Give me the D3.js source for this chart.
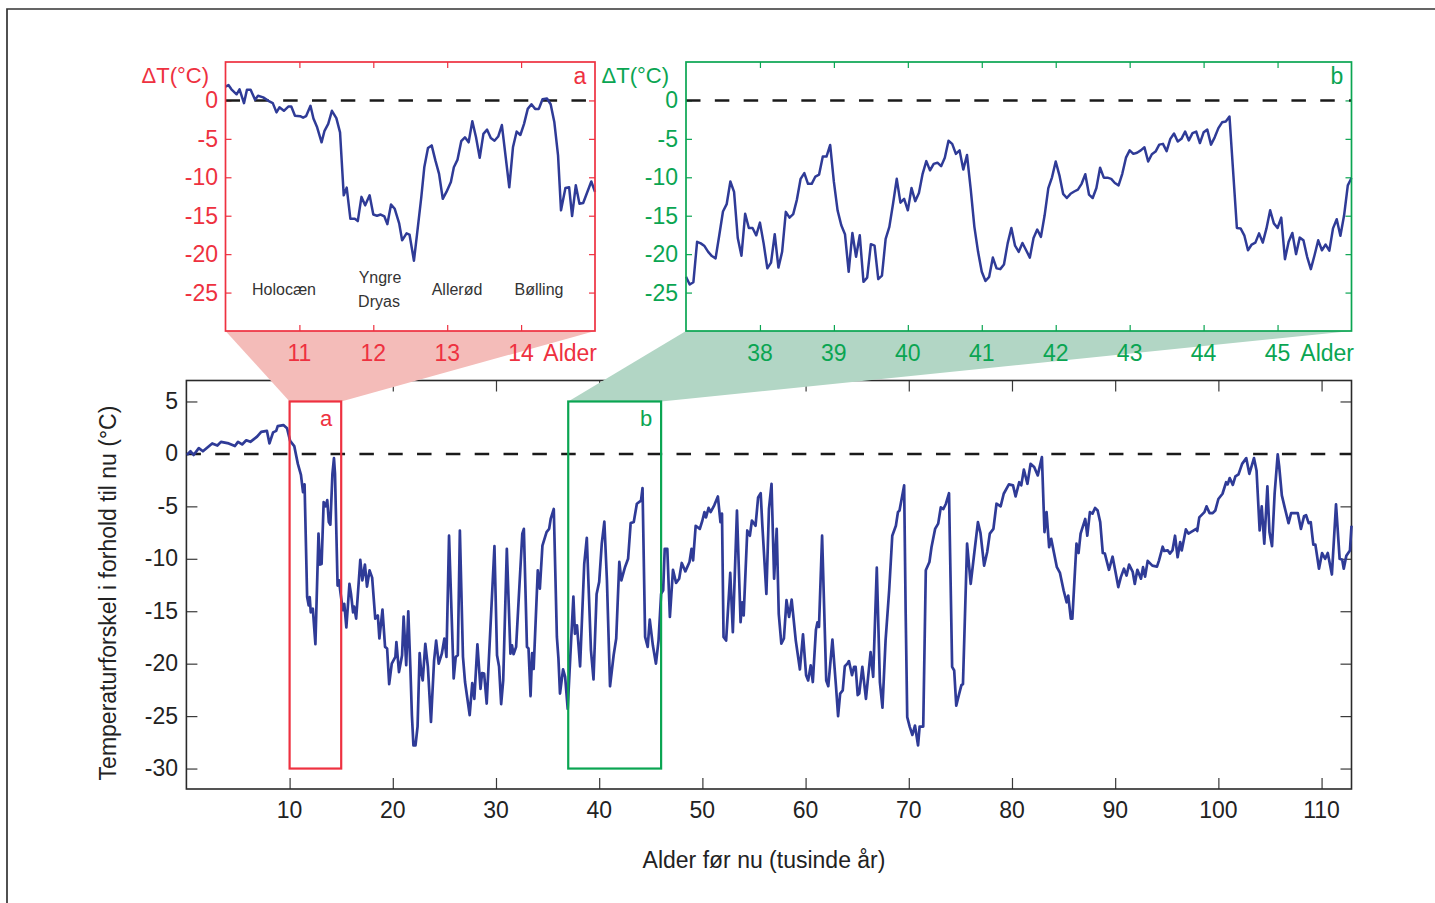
<!DOCTYPE html>
<html><head><meta charset="utf-8">
<script src="https://cdn.jsdelivr.net/npm/d3@7"></script>
<style>
html,body{margin:0;padding:0;background:#fff;overflow:hidden}
text{font-family:"Liberation Sans",Arial,sans-serif}
</style></head><body><svg id="c" width="1435" height="903"></svg>
<script>
// Age (thousand years before present), temperature difference (°C)
const mainSeries=[[0.05,-0.1],[0.4,0.25],[0.7,-0.1],[1.2,0.55],[1.6,0.25],[2.5,1.0],[3.0,0.8],[3.35,1.15],[4.1,1.0],[4.7,0.75],[5.0,1.15],[5.4,0.9],[5.8,1.3],[6.2,1.15],[6.85,1.65],[7.25,2.1],[7.8,2.2],[8.05,1.0],[8.4,2.05],[8.7,2.2],[8.85,2.65],[9.4,2.75],[9.75,2.45],[10.05,1.25],[10.45,0.75],[10.8,-0.95],[11.1,-2.0],[11.3,-3.65],[11.45,-2.9],[11.7,-13.65],[11.85,-14.45],[11.95,-13.65],[12.05,-15.1],[12.25,-14.75],[12.5,-18.15],[12.8,-7.6],[12.95,-10.55],[13.1,-10.5],[13.3,-4.6],[13.5,-5.0],[13.65,-4.4],[13.8,-6.5],[13.95,-6.75],[14.15,-1.9],[14.3,-0.4],[14.4,-1.9],[14.65,-12.55],[14.8,-12.05],[14.9,-13],[15.15,-14.9],[15.3,-14.3],[15.5,-16.55],[15.8,-12.4],[15.95,-13.35],[16.15,-15.1],[16.25,-14.55],[16.45,-15.7],[16.85,-10.1],[17.05,-12.05],[17.3,-10.55],[17.5,-12.65],[17.75,-11.1],[18,-11.8],[18.3,-15.7],[18.55,-15.4],[18.7,-17.6],[19,-14.85],[19.25,-18.4],[19.45,-18.55],[19.65,-21.95],[19.9,-20],[20.25,-19.35],[20.35,-17.95],[20.6,-20.8],[20.9,-19.2],[21.05,-15.5],[21.3,-20.15],[21.5,-15],[21.7,-20.3],[21.85,-24.9],[22,-27.8],[22.2,-27.8],[22.4,-26],[22.6,-19],[22.75,-20.8],[22.9,-21.6],[23.15,-18.1],[23.4,-20.3],[23.7,-25.55],[24,-19.7],[24.2,-17.8],[24.45,-20],[24.75,-19.05],[25,-17.6],[25.2,-19.35],[25.45,-7.8],[25.9,-21.4],[26.1,-19.35],[26.3,-19.2],[26.5,-7.3],[26.8,-19.35],[27,-21.75],[27.45,-24.9],[27.7,-21.85],[27.9,-23.35],[28.2,-18.15],[28.5,-22.4],[28.65,-20.9],[28.85,-20.95],[29.1,-23.8],[29.45,-16.8],[29.85,-8.8],[30.1,-19.2],[30.3,-20.3],[30.5,-23.85],[30.7,-21.6],[31.05,-9.05],[31.4,-19.05],[31.55,-18.25],[31.7,-19.1],[31.95,-18.4],[32.3,-12.05],[32.55,-7.6],[32.7,-7.15],[33,-18.4],[33.15,-18.55],[33.35,-23.1],[33.5,-19],[33.65,-20.5],[34.05,-11.1],[34.25,-12.85],[34.5,-8.75],[34.9,-7.45],[35.15,-7.15],[35.3,-6.2],[35.6,-5.25],[35.9,-17.45],[36.05,-19.5],[36.2,-22.85],[36.5,-20.55],[36.7,-21.25],[36.95,-24.3],[37.2,-19.35],[37.5,-13.6],[37.65,-17.15],[37.85,-16.35],[38.15,-20.25],[38.55,-10.5],[38.8,-8],[39.2,-18.7],[39.45,-21.5],[39.75,-13.35],[40,-12.2],[40.25,-8.55],[40.5,-6.45],[40.75,-12.05],[41.05,-22.15],[41.4,-19.2],[41.65,-17.6],[41.95,-10.3],[42.15,-12.05],[42.5,-10.8],[42.8,-10],[43.05,-6.6],[43.35,-6.5],[43.65,-4.75],[44.05,-4.45],[44.2,-3.25],[44.45,-17.45],[44.7,-18.4],[44.9,-15.8],[45.2,-18.25],[45.5,-20],[45.75,-17.8],[46,-13.35],[46.2,-13],[46.35,-9.05],[46.6,-9.05],[46.85,-15.55],[47.15,-11.05],[47.45,-12.3],[47.75,-11.9],[48,-10.4],[48.35,-11.2],[48.75,-10.3],[48.95,-9.05],[49.1,-10.15],[49.35,-6.85],[49.75,-7.15],[50,-6.35],[50.2,-5.55],[50.35,-6.05],[50.6,-5.15],[50.8,-5.55],[51.15,-4.9],[51.5,-4.05],[51.75,-6.5],[51.9,-5.7],[52.05,-17.45],[52.3,-17.8],[52.7,-11.35],[52.95,-17],[53.35,-5.4],[53.7,-16.05],[53.85,-14.15],[54,-15.4],[54.35,-7.3],[54.6,-7.8],[54.8,-6.35],[55.15,-6.85],[55.4,-4.15],[55.65,-3.75],[55.8,-6.65],[56.2,-13.35],[56.45,-5.25],[56.7,-2.85],[56.95,-11.9],[57.2,-7.15],[57.4,-15.25],[57.65,-18.1],[57.9,-17.6],[58.15,-13.95],[58.4,-15.55],[58.65,-13.9],[59.05,-17.8],[59.45,-20.55],[59.75,-17.2],[60.05,-21.1],[60.25,-21.6],[60.5,-20.15],[60.7,-21.75],[61,-16.8],[61.15,-16.05],[61.3,-16.5],[61.6,-7.8],[62,-21.6],[62.2,-22.15],[62.6,-17.7],[62.95,-22.2],[63.15,-25],[63.35,-22.85],[63.6,-22.55],[63.8,-20.25],[64.05,-20],[64.2,-19.75],[64.5,-21.1],[64.7,-20.3],[64.85,-20.3],[65.05,-23],[65.2,-22.85],[65.5,-20.3],[65.85,-23.35],[66.3,-18.9],[66.55,-21.25],[66.9,-10.85],[67.2,-21.75],[67.45,-24.2],[67.75,-17.8],[68.1,-13],[68.4,-7.8],[68.75,-6.85],[68.95,-5.55],[69.1,-5.4],[69.55,-3],[69.7,-15.25],[69.85,-25.1],[70.1,-26.05],[70.35,-26.8],[70.6,-25.9],[70.9,-27.8],[71.05,-26],[71.4,-26],[71.65,-11.1],[72,-10.3],[72.2,-8.9],[72.55,-7.15],[72.85,-6.65],[73.1,-5.1],[73.35,-5.25],[73.6,-4.75],[73.9,-3.75],[74.2,-20.3],[74.4,-20.65],[74.6,-24],[74.85,-23],[75.1,-22.05],[75.25,-21.95],[75.65,-8.55],[76,-12.4],[76.3,-9.85],[76.7,-6.5],[76.95,-7.55],[77.3,-10.65],[77.6,-9.35],[77.85,-7.6],[78.2,-7.15],[78.5,-4.75],[78.9,-5],[79.2,-3.8],[79.7,-2.9],[80.1,-3],[80.35,-4.05],[80.7,-2.7],[80.9,-3],[81.15,-1.5],[81.5,-2.85],[81.8,-0.95],[82.15,-1.25],[82.5,-2.05],[82.9,-0.3],[83.15,-7.45],[83.35,-5.55],[83.6,-8.9],[83.8,-8.1],[84.35,-10.8],[84.65,-11.35],[85,-13],[85.3,-14.15],[85.45,-13.5],[85.7,-15.7],[85.85,-15.7],[86.25,-8.55],[86.45,-9.45],[86.65,-7.6],[87.1,-6.2],[87.3,-7.8],[87.55,-5.55],[87.8,-5.7],[88.05,-5.15],[88.3,-5.4],[88.55,-6.5],[88.8,-9.45],[89,-9.5],[89.4,-11.05],[89.75,-9.8],[90.05,-11.35],[90.3,-12.7],[90.55,-11.75],[90.85,-10.95],[91.1,-11.6],[91.35,-10.55],[91.7,-11.25],[91.9,-12.4],[92.15,-11.05],[92.5,-11.9],[92.7,-10.8],[92.9,-11.7],[93.15,-10.2],[93.6,-10.65],[94.05,-10.75],[94.25,-10.15],[94.6,-8.85],[94.75,-9.25],[95.1,-9.2],[95.3,-9.5],[95.55,-9.2],[95.8,-7.8],[96.05,-9.85],[96.3,-8.4],[96.45,-9.2],[96.85,-7.2],[97.1,-7.6],[97.85,-7.15],[97.95,-7.35],[98.15,-6.05],[98.65,-5.55],[98.85,-5],[99.15,-5.65],[99.45,-5.65],[99.7,-5.4],[100,-4.3],[100.4,-3.8],[100.75,-2.7],[100.9,-2.9],[101.1,-2.3],[101.4,-2.95],[101.65,-2.15],[101.95,-1.95],[102.3,-0.95],[102.7,-0.4],[103,-1.9],[103.45,-0.4],[103.7,-1.6],[104,-7.3],[104.2,-5],[104.45,-8.55],[104.75,-3.1],[104.95,-7.45],[105.2,-8.8],[105.45,-3.8],[105.75,-0.05],[105.9,-1.25],[106.15,-3.95],[106.5,-5.4],[106.8,-6.6],[107.05,-5.65],[107.7,-5.65],[108,-7.15],[108.3,-5.95],[108.5,-5.85],[108.75,-6.6],[108.95,-6.5],[109.2,-8.65],[109.4,-8.65],[109.75,-10.95],[110.05,-9.45],[110.35,-10],[110.6,-9.45],[111,-11.5],[111.4,-4.8],[111.75,-10],[112,-10.1],[112.15,-10.95],[112.4,-9.7],[112.75,-9.2],[112.9,-6.85]];
const insetASeries=[[10,1.8],[10.04,2.0],[10.08,1.45],[10.15,0.8],[10.19,1.45],[10.25,-0.35],[10.29,1.4],[10.34,1.4],[10.4,0.1],[10.44,0.6],[10.51,0.4],[10.58,-0.05],[10.64,-0.35],[10.69,-1.55],[10.73,-0.9],[10.79,-1.35],[10.85,-0.8],[10.89,-0.8],[10.94,-2],[11.01,-2.05],[11.05,-2.25],[11.09,-2.05],[11.15,-0.7],[11.19,-2.35],[11.24,-3.5],[11.3,-5.45],[11.34,-3.95],[11.39,-3.05],[11.44,-1.35],[11.5,-2.3],[11.55,-4.15],[11.6,-12.35],[11.64,-11.35],[11.69,-15.4],[11.75,-15.4],[11.79,-15.7],[11.84,-12.55],[11.89,-13.65],[11.95,-12.35],[12,-14.85],[12.05,-15],[12.1,-14.85],[12.15,-15.1],[12.19,-16.1],[12.24,-13.55],[12.29,-14.1],[12.35,-16],[12.39,-18.2],[12.45,-17.3],[12.49,-17.45],[12.55,-20.85],[12.59,-17.55],[12.65,-12.55],[12.69,-8.7],[12.74,-6.2],[12.79,-5.85],[12.84,-7.8],[12.89,-9.55],[12.94,-12.8],[12.99,-11.9],[13.05,-10.6],[13.09,-8.7],[13.14,-7.7],[13.19,-5.3],[13.24,-4.8],[13.29,-5.45],[13.34,-2.7],[13.39,-4.8],[13.44,-7.45],[13.49,-4.35],[13.54,-3.8],[13.59,-4.9],[13.64,-5.25],[13.69,-4.7],[13.74,-3.2],[13.84,-11.3],[13.89,-6.1],[13.94,-4.05],[13.99,-4.5],[14.04,-3.05],[14.09,-1.1],[14.14,-0.5],[14.19,-1.1],[14.24,-1.1],[14.29,0.15],[14.35,0.25],[14.4,-0.5],[14.45,-2.85],[14.5,-7.15],[14.54,-14.3],[14.6,-11.4],[14.65,-11.3],[14.69,-15.05],[14.74,-11.05],[14.79,-13.45],[14.84,-13.35],[14.95,-10.55],[15,-11.9]];
const insetBSeries=[[37,-22.95],[37.05,-23.95],[37.1,-23.65],[37.15,-18.4],[37.2,-18.6],[37.25,-18.95],[37.3,-19.7],[37.35,-20.25],[37.4,-20.55],[37.45,-17.55],[37.5,-14.45],[37.55,-13.5],[37.6,-10.55],[37.65,-11.9],[37.7,-17.9],[37.75,-20.2],[37.8,-14.75],[37.85,-16.6],[37.9,-16.6],[37.95,-17.55],[38,-15.9],[38.05,-18.6],[38.1,-21.85],[38.15,-21.1],[38.2,-17.4],[38.25,-21.75],[38.3,-19.7],[38.35,-14.5],[38.4,-15.25],[38.45,-14.8],[38.5,-12.9],[38.55,-10.2],[38.6,-9.45],[38.65,-10.85],[38.7,-10.85],[38.75,-9.9],[38.8,-9.65],[38.85,-7.3],[38.9,-7.3],[38.95,-5.8],[39,-10.6],[39.05,-14.3],[39.1,-16.25],[39.15,-17.4],[39.2,-22.3],[39.25,-17.25],[39.3,-20.35],[39.35,-17.55],[39.4,-23.6],[39.45,-23.05],[39.5,-18.7],[39.55,-18.9],[39.6,-23.25],[39.65,-22.8],[39.7,-18],[39.75,-16.45],[39.8,-13.45],[39.85,-10.2],[39.9,-13.3],[39.95,-12.8],[40,-14.3],[40.05,-11.4],[40.1,-13.1],[40.15,-12.05],[40.2,-9.55],[40.25,-7.9],[40.3,-9.1],[40.35,-8.25],[40.4,-8.1],[40.45,-8.55],[40.5,-7.45],[40.55,-5.25],[40.6,-5.65],[40.65,-6.95],[40.7,-6.5],[40.75,-9],[40.8,-7.1],[40.85,-11.5],[40.9,-16.45],[40.95,-19.7],[41,-22.3],[41.05,-23.5],[41.1,-22.95],[41.15,-20.45],[41.2,-21.85],[41.25,-21.95],[41.3,-21.35],[41.35,-18.6],[41.4,-16.6],[41.45,-18.9],[41.5,-19.7],[41.55,-18.55],[41.6,-19.5],[41.65,-20.45],[41.7,-17.9],[41.75,-16.8],[41.8,-17.75],[41.85,-14.95],[41.9,-11.4],[41.95,-10],[42,-7.95],[42.05,-9.75],[42.1,-12.15],[42.15,-12.7],[42.2,-12.15],[42.25,-11.85],[42.3,-11.6],[42.35,-10.85],[42.4,-9.6],[42.45,-12.25],[42.5,-12.7],[42.55,-11.4],[42.6,-8.75],[42.65,-10.05],[42.7,-10.05],[42.75,-10.2],[42.8,-10.75],[42.85,-11.05],[42.9,-9.55],[42.95,-7.45],[43,-6.5],[43.05,-6.95],[43.1,-6.8],[43.15,-6.5],[43.2,-6.1],[43.25,-7.95],[43.3,-7],[43.35,-6.65],[43.4,-5.75],[43.45,-5.65],[43.5,-6.6],[43.55,-5],[43.6,-4.3],[43.65,-5.35],[43.7,-5],[43.75,-4.05],[43.8,-5.2],[43.85,-4.25],[43.9,-4.05],[43.95,-5.55],[44,-4.15],[44.05,-3.8],[44.1,-5.75],[44.15,-4.8],[44.2,-3.6],[44.25,-2.85],[44.3,-2.75],[44.35,-2.1],[44.45,-16.6],[44.5,-16.65],[44.55,-17.55],[44.6,-19.5],[44.65,-18.75],[44.7,-18.5],[44.75,-17.3],[44.8,-18.5],[44.85,-16.65],[44.9,-14.3],[44.95,-16],[45,-16.6],[45.05,-15.25],[45.1,-20.65],[45.15,-18.4],[45.2,-17.25],[45.25,-20],[45.3,-17.85],[45.35,-18.2],[45.4,-20.35],[45.45,-21.95],[45.5,-20.15],[45.55,-18.2],[45.6,-19.5],[45.65,-18.75],[45.7,-19.55],[45.75,-16.65],[45.8,-15.45],[45.85,-17.6],[45.9,-14.95],[45.95,-11.05],[46,-10.1]];
const mainXTicks=[10,20,30,40,50,60,70,80,90,100,110];
const mainYTicks=[5,0,-5,-10,-15,-20,-25,-30];
const insetYTicks=[0,-5,-10,-15,-20,-25];
const insetAXTicks=[11,12,13,14];
const insetBXTicks=[38,39,40,41,42,43,44,45];

const RED="#ee3140",GREEN="#0aa552",BLUE="#2f3b97",AX="#3a3a3a";
const svg=d3.select("#c");
const fmt=d=>String(d);
// outer page frame
svg.append("path").attr("d","M7,903V9H1435").attr("fill","none").attr("stroke","#333").attr("stroke-width",1.7);

const mx=d3.scaleLinear().domain([0,112.9]).range([186.4,1351.5]);
const my=d3.scaleLinear().domain([-31.95,7]).range([789,380.5]);
const lineGen=(x,y)=>d3.line().x(d=>x(d[0])).y(d=>y(d[1]));

function axes(g,x,y,xt,yt,color,tl){
  const [x0,x1]=x.range(),[y1,y0]=y.range();
  const style=s=>{s.select(".domain").remove();s.selectAll("line").attr("stroke",color).attr("stroke-width",1.2)};
  g.append("g").attr("transform",`translate(0,${y1})`).call(d3.axisBottom(x).tickValues(xt).tickSize(-tl).tickFormat("")).call(style);
  g.append("g").attr("transform",`translate(0,${y0})`).call(d3.axisTop(x).tickValues(xt).tickSize(-tl).tickFormat("")).call(style);
  g.append("g").attr("transform",`translate(${x0},0)`).call(d3.axisLeft(y).tickValues(yt).tickSize(-tl).tickFormat("")).call(style);
  g.append("g").attr("transform",`translate(${x1},0)`).call(d3.axisRight(y).tickValues(yt).tickSize(-tl).tickFormat("")).call(style);
}
function dash(g,x,y){
  g.append("line").attr("x1",x.range()[0]).attr("x2",x.range()[1]).attr("y1",y(0)).attr("y2",y(0))
   .attr("stroke","#1a1a1a").attr("stroke-width",2.5).attr("stroke-dasharray","14.5,14.33");
}
function frame(g,x,y,color,w){
  g.append("rect").attr("x",x.range()[0]).attr("y",y.range()[1]).attr("width",x.range()[1]-x.range()[0]).attr("height",y.range()[0]-y.range()[1])
   .attr("fill","none").attr("stroke",color).attr("stroke-width",w);
}
function series(g,data,x,y,w){
  g.append("path").attr("d",lineGen(x,y)(data)).attr("fill","none").attr("stroke",BLUE).attr("stroke-width",w).attr("stroke-linejoin","round");
}

// main panel
const gm=svg.append("g");
axes(gm,mx,my,mainXTicks,mainYTicks,AX,11);
frame(gm,mx,my,"#2a2a2a",1.6);
dash(gm,mx,my);
series(gm,mainSeries,mx,my,2.7);

// inset scales
const ax=d3.scaleLinear().domain([10,15]).range([225.5,595]);
const bx=d3.scaleLinear().domain([37,46]).range([686,1351.5]);
const iy=d3.scaleLinear().domain([-30,5]).range([331,62]);

// connector wedges
const wedge=(pts,fill)=>svg.append("polygon").attr("points",pts.map(p=>p.join(",")).join(" ")).attr("fill",fill);
wedge([[ax(10),iy(-30)],[ax(15),iy(-30)],[mx(15),my(5)],[mx(10),my(5)]],"#f4bcb9");
wedge([[bx(37),iy(-30)],[bx(46),iy(-30)],[mx(46),my(5)],[mx(37),my(5)]],"#b2d6c5");

// highlight boxes
const box=(a,b,c)=>svg.append("rect").attr("x",mx(a)).attr("y",my(5)).attr("width",mx(b)-mx(a)).attr("height",my(-30)-my(5)).attr("fill","none").attr("stroke",c).attr("stroke-width",2.2);
box(10,15,RED);box(37,46,GREEN);
svg.append("text").attr("x",326).attr("y",426).attr("text-anchor","middle").attr("font-size",22).attr("fill",RED).text("a");
svg.append("text").attr("x",646).attr("y",426).attr("text-anchor","middle").attr("font-size",22).attr("fill",GREEN).text("b");

// main tick labels
const FS=23;
mainXTicks.forEach(t=>svg.append("text").attr("x",mx(t)).attr("y",818).attr("text-anchor","middle").attr("font-size",FS).attr("fill","#222").text(fmt(t)));
mainYTicks.forEach(t=>svg.append("text").attr("x",178).attr("y",my(t)+7.5).attr("text-anchor","end").attr("font-size",FS).attr("fill","#222").text(fmt(t)));
svg.append("text").attr("x",764).attr("y",868).attr("text-anchor","middle").attr("font-size",FS).attr("fill","#222").text("Alder før nu (tusinde år)");
svg.append("text").attr("transform","translate(116,593) rotate(-90)").attr("text-anchor","middle").attr("font-size",FS).attr("fill","#222").text("Temperaturforskel i forhold til nu (°C)");

// inset a
const ga=svg.append("g");
axes(ga,ax,iy,insetAXTicks,insetYTicks,RED,6);
dash(ga,ax,iy);
series(ga,insetASeries,ax,iy,2.5);
frame(ga,ax,iy,RED,1.7);
insetAXTicks.forEach(t=>svg.append("text").attr("x",ax(t)).attr("y",361).attr("text-anchor","middle").attr("font-size",FS).attr("fill",RED).text(fmt(t)));
insetYTicks.forEach(t=>svg.append("text").attr("x",218).attr("y",iy(t)+8).attr("text-anchor","end").attr("font-size",FS).attr("fill",RED).text(fmt(t)));
svg.append("text").attr("x",597).attr("y",360.5).attr("text-anchor","end").attr("font-size",FS).attr("fill",RED).text("Alder");
svg.append("text").attr("x",209).attr("y",83).attr("text-anchor","end").attr("font-size",22).attr("fill",RED).text("ΔT(°C)");
svg.append("text").attr("x",580).attr("y",84).attr("text-anchor","middle").attr("font-size",23).attr("fill",RED).text("a");
[["Holocæn",284,295],["Yngre",380,283],["Dryas",379,307],["Allerød",457,295],["Bølling",539,295]].forEach(d=>
  svg.append("text").attr("x",d[1]).attr("y",d[2]).attr("text-anchor","middle").attr("font-size",16).attr("fill","#333").text(d[0]));

// inset b
const gb=svg.append("g");
axes(gb,bx,iy,insetBXTicks,insetYTicks,GREEN,6);
dash(gb,bx,iy);
series(gb,insetBSeries,bx,iy,2.5);
frame(gb,bx,iy,GREEN,1.7);
insetBXTicks.forEach(t=>svg.append("text").attr("x",bx(t)).attr("y",361).attr("text-anchor","middle").attr("font-size",FS).attr("fill",GREEN).text(fmt(t)));
insetYTicks.forEach(t=>svg.append("text").attr("x",678).attr("y",iy(t)+8).attr("text-anchor","end").attr("font-size",FS).attr("fill",GREEN).text(fmt(t)));
svg.append("text").attr("x",1354).attr("y",360.5).attr("text-anchor","end").attr("font-size",FS).attr("fill",GREEN).text("Alder");
svg.append("text").attr("x",669).attr("y",83).attr("text-anchor","end").attr("font-size",22).attr("fill",GREEN).text("ΔT(°C)");
svg.append("text").attr("x",1337).attr("y",84).attr("text-anchor","middle").attr("font-size",23).attr("fill",GREEN).text("b");
</script></body></html>
